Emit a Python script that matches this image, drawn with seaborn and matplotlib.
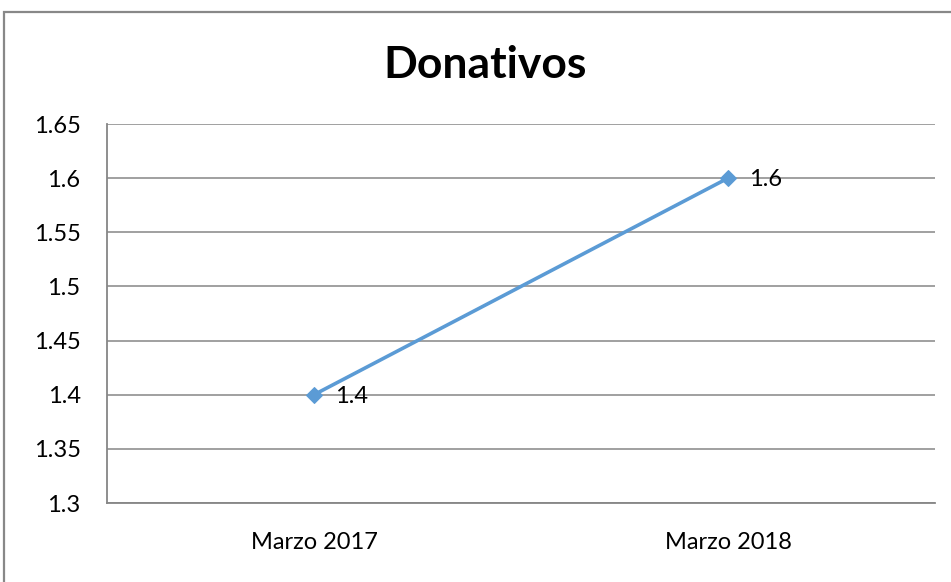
import matplotlib
matplotlib.use('Agg')
import matplotlib.pyplot as plt
import pandas as pd
import seaborn as sns
from matplotlib.patches import Rectangle

# Data
periods = ['Marzo 2017', 'Marzo 2018']
donativos = [1.4, 1.6]
y_ticks = [1.3, 1.35, 1.4, 1.45, 1.5, 1.55, 1.6, 1.65]
y_tick_labels = ['1.3', '1.35', '1.4', '1.45', '1.5', '1.55', '1.6', '1.65']

df = pd.DataFrame({'periodo': periods, 'valor': donativos})

sns.set_style('white')
plt.rcParams['font.family'] = ['Lato', 'DejaVu Sans']

fig = plt.figure(figsize=(9.51, 5.82), dpi=100)
ax = fig.add_axes([107 / 951, 1 - 503 / 582, (935 - 107) / 951, (503 - 124) / 582])

line_color = '#5B9BD5'
grid_color = '#868686'

sns.lineplot(data=df, x='periodo', y='valor', ax=ax, color=line_color,
             linewidth=2.6, marker='D', markersize=8.5,
             markeredgecolor=line_color, zorder=3)

# Data labels
for i, v in enumerate(donativos):
    ax.annotate(f'{v:g}', (i, v), xytext=(15, -1), textcoords='offset points',
                ha='left', va='center', fontsize=17, color='black')

ax.set_xlim(-0.5, 1.5)
ax.set_ylim(1.3, 1.65)
ax.set_yticks(y_ticks)
ax.set_yticklabels(y_tick_labels)
ax.yaxis.grid(True, color=grid_color, linewidth=1.1)
ax.set_axisbelow(True)
ax.tick_params(axis='both', length=0, labelsize=17, colors='black')
ax.tick_params(axis='y', pad=19)
ax.tick_params(axis='x', pad=21)
ax.set_xlabel('')
ax.set_ylabel('')

for side in ['top', 'right']:
    ax.spines[side].set_visible(False)
for side in ['left', 'bottom']:
    ax.spines[side].set_color(grid_color)
    ax.spines[side].set_linewidth(1.3)

fig.text(485 / 951, 1 - 65 / 582, 'Donativos', ha='center', va='center',
         fontsize=32, fontweight='bold', color='black')

# Chart border
fig.patches.append(Rectangle((4 / 951, -0.05), 1.1, 0.05 + 1 - 12 / 582,
                             transform=fig.transFigure, fill=False,
                             edgecolor='#888888', linewidth=1.6))

fig.savefig('out.png', dpi=100)
